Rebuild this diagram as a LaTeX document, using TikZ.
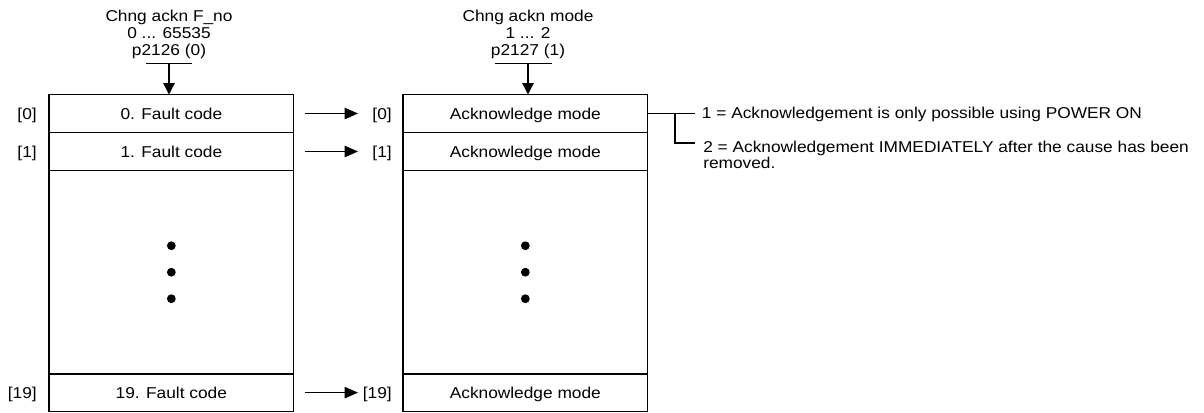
\documentclass[tikz,border=0pt]{standalone}
\usepackage{fontspec}
\setmainfont[FakeStretch=1.1]{Liberation Sans}
\usetikzlibrary{arrows.meta,positioning}

\begin{document}
\begin{tikzpicture}[x=0.75pt,y=-0.75pt,
  every node/.style={font=\fontsize{11.8}{13}\selectfont},
  cell/.style={draw,line width=0.9pt,minimum width=183.5pt,minimum height=28.5pt,
    inner sep=0pt,outer sep=0pt,text height=10.5pt,text depth=1.5pt},
  idx/.style={inner sep=0pt,text height=10.5pt,text depth=1.5pt},
  harr/.style={line width=1pt,-{Triangle[length=10pt,width=8.5pt]}},
  varr/.style={line width=1pt,-{Triangle[length=8.5pt,width=8.5pt]}}]
\useasboundingbox (0,0) rectangle (1204,413);

% fault codes
\node[cell,anchor=north west] (f0) at (49,94.5) {0. Fault code};
\node[cell,anchor=north] (f1) at (f0.south) {1. Fault code};
\node[cell,anchor=north,minimum height=152.6pt] (fgap) at (f1.south) {};
\node[cell,anchor=north,minimum height=28pt] (f19) at (fgap.south) {19. Fault code};

% acknowledge modes
\node[cell,anchor=north west] (a0) at (403,94.5) {Acknowledge mode};
\node[cell,anchor=north] (a1) at (a0.south) {Acknowledge mode};
\node[cell,anchor=north,minimum height=152.6pt] (agap) at (a1.south) {};
\node[cell,anchor=north,minimum height=28pt] (a19) at (agap.south) {Acknowledge mode};

\foreach \d in {-26.5,0,26.5}{
  \fill ([yshift=\d*0.75pt]fgap.center) circle (3.3pt);
  \fill ([yshift=\d*0.75pt]agap.center) circle (3.3pt);
}

% indices
\node[idx,left=9pt of f0] (if0) {[0]};
\node[idx,left=9pt of f1] (if1) {[1]};
\node[idx,left=9pt of f19] (if19) {[19]};
\node[idx,left=8.25pt of a0] (ia0) {[0]};
\node[idx,left=8.25pt of a1] (ia1) {[1]};
\node[idx,left=8.25pt of a19] (ia19) {[19]};

\coordinate (tip) at (358,0);
\foreach \r in {0,1,19}
  \draw[harr] ([xshift=8.25pt]f\r.east) -- (f\r.east -| tip);

% parameters
\node[inner sep=0pt,align=center,anchor=south] (pf) at (169,59.5) {Chng ackn F\_no\\0 ... 65535\\p2126 (0)};
\node[inner sep=0pt,align=center,anchor=south] (pm) at (528,59.5) {Chng ackn mode\\1 ... 2\\p2127 (1)};
\coordinate (pfbar) at (169,63.3);
\coordinate (pmbar) at (528,63.3);
\draw[line width=0.9pt] (146,63.3) -- (192,63.3);
\draw[line width=0.9pt] (495,63.3) -- (552,63.3);
\draw[varr] (pfbar) -- (pfbar |- f0.north);
\draw[varr] (pmbar) -- (pmbar |- a0.north);

% mode values
\node[inner sep=0pt,anchor=west] (opt1) at ([xshift=40.5pt,yshift=-1pt]a0.east) {1 = Acknowledgement is only possible using POWER ON};
\node[inner sep=0pt,anchor=north west,align=left,font=\fontsize{11.8}{10}\selectfont] (opt2) at (703,141) {2 = Acknowledgement IMMEDIATELY after the cause has been\\removed.};
\coordinate (br) at (675,0);
\coordinate (br2) at (695,143);
\draw[line width=0.8pt] (a0.east) -- (a0.east -| br2);
\draw[line width=0.8pt] (a0.east -| br) |- (br2);
\end{tikzpicture}
\end{document}
